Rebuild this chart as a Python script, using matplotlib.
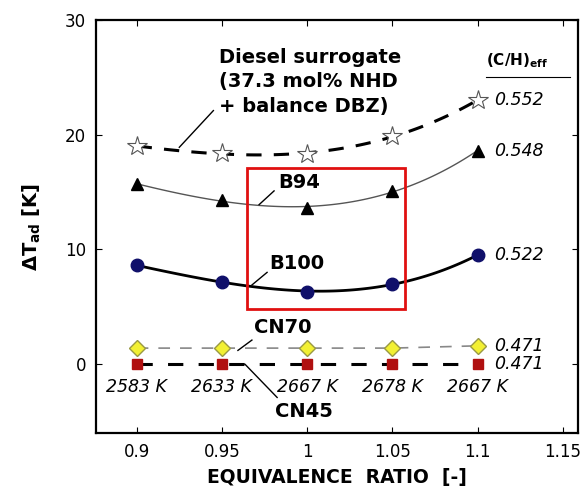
import numpy as np
import matplotlib
matplotlib.use("Agg")
import matplotlib.pyplot as plt
from matplotlib.patches import Rectangle

plt.rcParams['font.family'] = ['DejaVu Sans']
plt.rcParams['mathtext.fontset'] = 'dejavusans'

phi = [0.9, 0.95, 1.0, 1.05, 1.1]
diesel = [19.0, 18.4, 18.3, 19.9, 23.0]
b94 = [15.7, 14.3, 13.6, 15.1, 18.6]
b100 = [8.6, 7.2, 6.3, 7.0, 9.5]
cn70 = [1.4, 1.4, 1.4, 1.4, 1.6]
cn45 = [0.0, 0.0, 0.0, 0.0, 0.0]
t_ad = ['2583 K', '2633 K', '2667 K', '2678 K', '2667 K']
ch_eff = ['0.552', '0.548', '0.522', '0.471', '0.471']

fig = plt.figure(figsize=(5.84, 4.86), dpi=100)
ax = fig.add_axes([0.164, 0.109, 0.826, 0.850])

xf = np.linspace(phi[0], phi[-1], 100)

def smooth(y):
    return np.polyval(np.polyfit(phi, y, 3), xf)

#curves
ax.plot(xf, smooth(diesel), color='black', lw=2.2, ls=(0, (5, 4)), zorder=2)
ax.plot(xf, smooth(b94), color='#555555', lw=1, zorder=2)
ax.plot(xf, smooth(b100), color='black', lw=2, zorder=2)
ax.plot(phi, cn70, color='#888888', lw=1.2, ls=(0, (7, 6)), zorder=2)
ax.plot(phi, cn45, color='black', lw=2.2, ls=(0, (5, 5)), zorder=2)

#markers
ax.plot(phi, diesel, ls='none', marker='*', ms=15, mfc='white', mec='#555555', mew=0.8, zorder=3)
ax.plot(phi, b94, ls='none', marker='^', ms=9, color='black', zorder=3)
ax.plot(phi, b100, ls='none', marker='o', ms=9, color='#10106a', zorder=3)
ax.plot(phi, cn70, ls='none', marker='D', ms=8, mfc='#f2f032', mec='#999944', zorder=3)
ax.plot(phi, cn45, ls='none', marker='s', ms=7, color='#b01010', zorder=3)

ax.add_patch(Rectangle((0.965, 4.8), 0.0926, 12.3, fill=False, ec='#e01010', lw=2, zorder=4))

#labels on the right
for x, y, s in zip([phi[-1]] * 5, [diesel[-1], b94[-1], b100[-1], cn70[-1], cn45[-1]], ch_eff):
    ax.text(x + 0.0095, y, s, fontsize=12.5, style='italic', va='center', ha='left')
ax.text(1.105, 25.6, '(C/H)$_{\\mathbf{eff}}$', fontsize=11, weight='bold', ha='left', va='bottom')
ax.plot([1.105, 1.154], [25.0, 25.0], color='black', lw=0.8)

for x, s in zip(phi, t_ad):
    ax.text(x, -2.0, s, fontsize=12.5, style='italic', ha='center', va='center')

#annotations
bold = dict(fontsize=14, weight='bold')
ax.text(0.948, 24.6, 'Diesel surrogate\n(37.3 mol% NHD\n+ balance DBZ)', ha='left', va='center',
        linespacing=1.35, **bold)
ax.plot([0.925, 0.945], [18.9, 22.1], color='black', lw=1)
ax.text(0.983, 15.8, 'B94', ha='left', va='center', **bold)
ax.plot([0.9718, 0.9806], [13.9, 15.1], color='black', lw=1)
ax.text(0.978, 8.8, 'B100', ha='left', va='center', **bold)
ax.plot([0.9676, 0.9765], [6.9, 8.0], color='black', lw=1)
ax.text(0.969, 3.2, 'CN70', ha='left', va='center', **bold)
ax.plot([0.9594, 0.9676], [1.2, 2.1], color='black', lw=1)
ax.text(0.981, -4.1, 'CN45', ha='left', va='center', **bold)
ax.plot([0.9565, 0.9635, 0.9824], [0, 0, -2.9], color='black', lw=1)

ax.set_xlim(0.876, 1.159)
ax.set_ylim(-6, 30)
ax.set_xticks([0.9, 0.95, 1.0, 1.05, 1.1, 1.15])
ax.set_xticklabels(['0.9', '0.95', '1', '1.05', '1.1', '1.15'])
ax.set_yticks([0, 10, 20, 30])
ax.tick_params(direction='in', top=True, right=True, labelsize=12, length=4, pad=7)
for s in ax.spines.values():
    s.set_linewidth(1.6)

ax.set_xlabel('EQUIVALENCE  RATIO  [-]', fontsize=13.5, weight='bold', va='top')
ax.xaxis.set_label_coords(0.5, -0.085)
ax.set_ylabel('$\\mathbf{\\Delta T_{ad}}$ [K]', fontsize=14, weight='bold', labelpad=16)

plt.savefig('out.png', dpi=100)
